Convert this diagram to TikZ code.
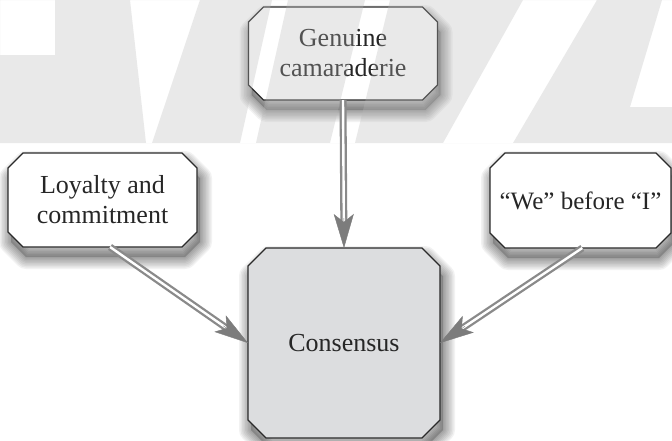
\documentclass[tikz,border=0pt]{standalone}
\usepackage{fontspec}
\setmainfont{Liberation Serif}
\usetikzlibrary{arrows.meta,calc,backgrounds}
\definecolor{arrgrey}{HTML}{8A8A8A}
\definecolor{headgrey}{HTML}{7C7C7C}
\definecolor{edgecol}{HTML}{2A2A2A}
\definecolor{confill}{HTML}{DCDDDF}
\definecolor{txtcol}{HTML}{262626}
% chamfered outline around a node: name, chamfer, dx, dy, style
\newcommand\chamdraw[5]{%
  \path[#5]
    ([xshift={#3+#2},yshift={#4}]#1.north west) --
    ([xshift={#3-#2},yshift={#4}]#1.north east) --
    ([xshift={#3},yshift={#4-#2}]#1.north east) --
    ([xshift={#3},yshift={#4+#2}]#1.south east) --
    ([xshift={#3-#2},yshift={#4}]#1.south east) --
    ([xshift={#3+#2},yshift={#4}]#1.south west) --
    ([xshift={#3},yshift={#4+#2}]#1.south west) --
    ([xshift={#3},yshift={#4-#2}]#1.north west) -- cycle;}
% double-line connector with a grey head
\newcommand\conn[2]{%
  \draw[shaftout] (#1) -- ($(#2)!22pt!(#1)$);
  \draw[shaftin] (#1) -- ($(#2)!25pt!(#1)$);
  \draw[headtip] ($(#2)!30pt!(#1)$) -- (#2);}
\begin{document}
\begin{tikzpicture}[x=1pt,y=-1pt,
  lbl/.style={rectangle, inner sep=0pt, outer sep=0pt, align=center,
    text=txtcol, font=\fontsize{26}{30}\selectfont},
  boxline/.style={draw=edgecol, line width=1.3pt, line join=miter},
  shadowring/.style={draw=black, draw opacity=0.05, line join=round},
  shadowcore/.style={fill=black, fill opacity=0.18},
  shaftout/.style={draw=arrgrey, line width=7pt},
  shaftin/.style={draw=white, line width=2.4pt},
  headtip/.style={draw=headgrey, line width=0.4pt,
    -{Stealth[length=34pt,width=20pt,inset=8pt]}},
  wmark/.style={fill=black!28, fill opacity=0.3}]
\useasboundingbox (0,0) rectangle (672,440);

\node[lbl, minimum width=189pt, minimum height=93pt] (gen) at (343,53.5) {Genuine\\camaraderie};
\node[lbl, minimum width=189pt, minimum height=94pt] (loy) at (102.5,200) {Loyalty and\\commitment};
\node[lbl, minimum width=181pt, minimum height=95pt, font=\fontsize{25}{30}\selectfont] (we) at (580.5,200.5) {“We” before “I”};
\node[lbl, minimum width=192pt, minimum height=190pt] (con) at (344,343) {Consensus};

\begin{scope}[on background layer]
  \fill[white] (0,0) rectangle (672,440);
  \foreach \n/\c in {gen/15pt, loy/15pt, we/15pt, con/18pt}{
    \chamdraw{\n}{\c}{3pt}{-10pt}{shadowcore}
    \foreach \w in {3,6,...,24}{
      \chamdraw{\n}{\c}{3pt}{-10pt}{shadowring, line width=\w pt}
    }
  }
  \chamdraw{gen}{15pt}{0pt}{0pt}{boxline, fill=white}
  \chamdraw{loy}{15pt}{0pt}{0pt}{boxline, fill=white}
  \chamdraw{we}{15pt}{0pt}{0pt}{boxline, fill=white}
  \chamdraw{con}{18pt}{0pt}{0pt}{boxline, fill=confill}
\end{scope}

\coordinate (ls) at ($(loy.south west)!0.54!(loy.south east)$);
\coordinate (rs) at ($(we.south west)!0.51!(we.south east)$);
\conn{gen.south}{con.north}
\conn{ls}{con.west}
\conn{rs}{con.east}

% faint watermark band
\fill[wmark, even odd rule] (0,0) rectangle (672,143)
  (0,0) -- (55,0) -- (55,55) -- (0,55) -- cycle
  (130,0) -- (200,0) -- (152,143) -- (146,143) -- cycle
  (272,0) -- (288,0) -- (256,143) -- (240,143) -- cycle
  (365,0) -- (390,0) -- (355,143) -- (330,143) -- cycle
  (523,0) -- (597,0) -- (513,143) -- (443,143) -- cycle
  (662,0) -- (672,0) -- (672,107) -- (630,107) -- cycle;
\end{tikzpicture}
\end{document}
